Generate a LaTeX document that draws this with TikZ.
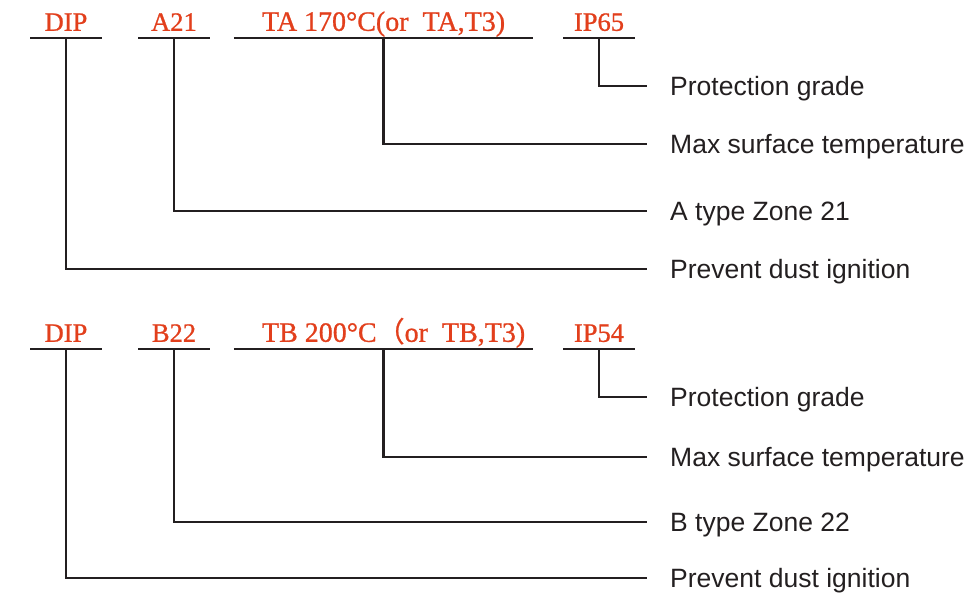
\documentclass[tikz,border=0pt]{standalone}
\usepackage{fontspec}
\setmainfont{Liberation Serif}
\newfontfamily\codefont[FakeBold=0.9]{Liberation Serif}
\newfontfamily\labelfont{Liberation Sans}
\newfontfamily\cjk[FakeBold=0.9]{Noto Sans CJK SC}
\usetikzlibrary{positioning}
\definecolor{codered}{HTML}{E23F1C}
\definecolor{ink}{HTML}{231F20}

\begin{document}
\begin{tikzpicture}[x=1pt,y=-1pt,every node/.style={font=\codefont\fontsize{26.5}{30}\selectfont}]
  \tikzstyle{code}=[anchor=south,text=codered,inner xsep=0pt,inner ysep=7pt,
                    text depth=0pt,minimum width=71pt];
  \tikzstyle{codewide}=[code,font=\codefont\fontsize{28}{30}\selectfont,
                        inner xsep=28pt,minimum width=299pt];
  \tikzstyle{meaning}=[anchor=west,text=ink,font=\labelfont\fontsize{26.5}{30}\selectfont,
                       inner xsep=23pt,text height=19pt,text depth=0pt];
  \tikzstyle{wire}=[ink,line width=2.3pt];
  \useasboundingbox (0,0) rectangle (974,594);
  % first marking
  \node[code]     (dip1) at (66,38)    {DIP};
  \node[code]     (a21)  at (174,38)   {A21};
  \node[codewide] (ta)   at (383.5,38) {\makebox[243pt][l]{TA 170°C(or~~TA,T3)}};
  \node[code]     (ip65) at (599,38)   {IP65};
  \node[meaning]  (prot1) at (647,86)  {Protection grade};
  \node[meaning]  (temp1) at (647,144) {Max surface temperature};
  \node[meaning]  (zone1) at (647,211) {A type Zone 21};
  \node[meaning]  (dust1) at (647,269) {Prevent dust ignition};
  % second marking
  \node[code]     (dip2) at (66,349)    {DIP};
  \node[code]     (b22)  at (174,349)   {B22};
  \node[codewide] (tb)   at (383.5,349) {\makebox[243pt][l]{TB 200°C{\cjk （}or~~TB,T3)}};
  \node[code]     (ip54) at (599,349)   {IP54};
  \node[meaning]  (prot2) at (647,397) {Protection grade};
  \node[meaning]  (temp2) at (647,457) {Max surface temperature};
  \node[meaning]  (zone2) at (647,522) {B type Zone 22};
  \node[meaning]  (dust2) at (647,578) {Prevent dust ignition};
  % underlines and leaders
  \foreach \c in {dip1,a21,ta,ip65,dip2,b22,tb,ip54}
    \draw[wire] (\c.south west) -- (\c.south east);
  \draw[wire] (ip65.south) |- (prot1.west);
  \draw[wire] (ta.south)   |- (temp1.west);
  \draw[wire] (a21.south)  |- (zone1.west);
  \draw[wire] (dip1.south) |- (dust1.west);
  \draw[wire] (ip54.south) |- (prot2.west);
  \draw[wire] (tb.south)   |- (temp2.west);
  \draw[wire] (b22.south)  |- (zone2.west);
  \draw[wire] (dip2.south) |- (dust2.west);
\end{tikzpicture}
\end{document}
